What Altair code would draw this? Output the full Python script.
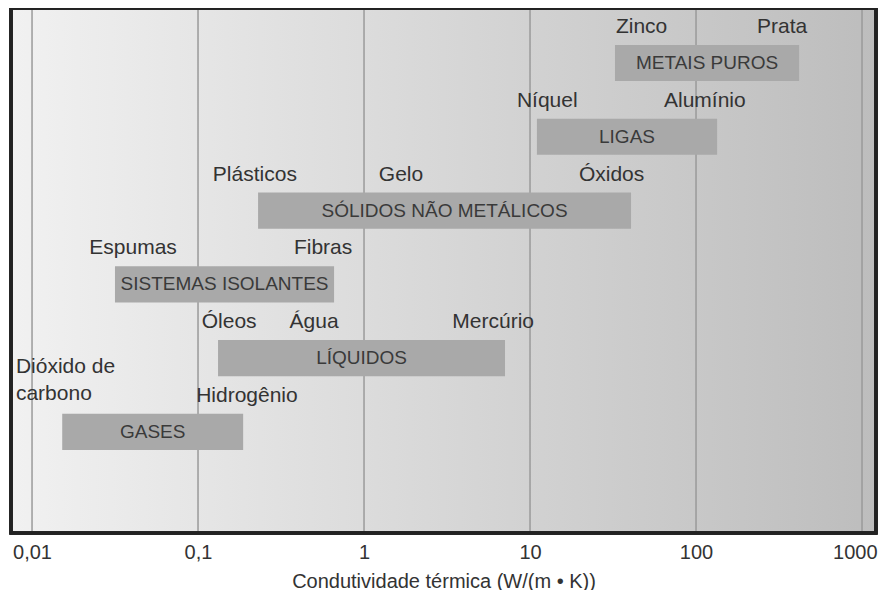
import altair as alt
import pandas as pd
import math

# ---- data ----
categories = ["GASES", "LÍQUIDOS", "SISTEMAS ISOLANTES", "SÓLIDOS NÃO METÁLICOS", "LIGAS", "METAIS PUROS"]
k_low = [0.0152, 0.132, 0.0316, 0.23, 11.0, 32.5]
k_high = [0.187, 7.07, 0.66, 40.6, 134.0, 418.0]

materials = ["Zinco", "Prata", "Níquel", "Alumínio", "Plásticos", "Gelo", "Óxidos",
             "Espumas", "Fibras", "Óleos", "Água", "Mercúrio", "Hidrogênio"]
material_k = [47, 330, 12.7, 113, 0.22, 1.67, 31, 0.0406, 0.567, 0.154, 0.5, 6.0, 0.197]
material_group = ["METAIS PUROS", "METAIS PUROS", "LIGAS", "LIGAS",
                  "SÓLIDOS NÃO METÁLICOS", "SÓLIDOS NÃO METÁLICOS", "SÓLIDOS NÃO METÁLICOS",
                  "SISTEMAS ISOLANTES", "SISTEMAS ISOLANTES",
                  "LÍQUIDOS", "LÍQUIDOS", "LÍQUIDOS", "GASES"]

co2_label = ["Dióxido de\ncarbono"]
co2_k = [0.008]
co2_group = ["GASES"]

tick_values = [0.01, 0.1, 1, 10, 100, 1000]
tick_labels = ["0,01", "0,1", "1", "10", "100", "1000"]

x_domain = [0.00747, 1214]
y_domain = [-1.37, 5.745]

FONT = "Liberation Sans"

# ---- tables ----
bars = pd.DataFrame({
    "cat": categories,
    "lo": k_low,
    "hi": k_high,
    "row": list(range(len(categories))),
})
bars["mid"] = [math.sqrt(a * b) for a, b in zip(k_low, k_high)]

ann = pd.DataFrame({
    "name": materials,
    "k": material_k,
    "row": [categories.index(g) for g in material_group],
})
co2 = pd.DataFrame({
    "name": co2_label,
    "k": co2_k,
    "row": [categories.index(g) for g in co2_group],
})
ticks = pd.DataFrame({"v": tick_values})

label_expr = " : ".join(
    f"datum.value == {v} ? '{l}'" for v, l in zip(tick_values, tick_labels)
) + " : datum.label"

xscale = alt.Scale(type="log", domain=x_domain, nice=False)
yscale = alt.Scale(domain=y_domain, nice=False, zero=False)

gradient = alt.Gradient(
    gradient="linear",
    x1=0, y1=0, x2=1, y2=0,
    stops=[alt.GradientStop(offset=0, color="#f1f1f1"),
           alt.GradientStop(offset=1, color="#bdbdbd")],
)

background = alt.Chart(ticks).mark_rect(fill=gradient).encode(
    x=alt.value(0), x2=alt.value("width"), y=alt.value(0), y2=alt.value("height")
)

grid = alt.Chart(ticks).mark_rule(color="#9a9a9a", strokeWidth=1.5).encode(
    x=alt.X("v:Q", scale=xscale,
            axis=alt.Axis(values=tick_values, labelExpr=label_expr, grid=False,
                          ticks=False, domain=False, labelPadding=9,
                          labelFlush=16, labelFlushOffset=15,
                          title="Condutividade térmica (W/(m • K))", titlePadding=9)),
)

rects = alt.Chart(bars).transform_calculate(
    y0="datum.row - 0.245", y1="datum.row + 0.245"
).mark_rect(color="#a9a9a9").encode(
    x=alt.X("lo:Q", scale=xscale),
    x2="hi:Q",
    y=alt.Y("y0:Q", scale=yscale, axis=None),
    y2="y1:Q",
)

bar_text = alt.Chart(bars).mark_text(
    font=FONT, fontSize=19, color="#3a3a3a", baseline="middle"
).encode(
    x=alt.X("mid:Q", scale=xscale),
    y=alt.Y("row:Q", scale=yscale, axis=None),
    text="cat:N",
)

ann_text = alt.Chart(ann).mark_text(
    font=FONT, fontSize=21, color="#333333", baseline="middle", dy=-36
).encode(
    x=alt.X("k:Q", scale=xscale),
    y=alt.Y("row:Q", scale=yscale, axis=None),
    text="name:N",
)

co2_text = alt.Chart(co2).mark_text(
    font=FONT, fontSize=21, color="#333333", baseline="middle", align="left",
    lineBreak="\n", lineHeight=27, dy=-65
).encode(
    x=alt.X("k:Q", scale=xscale),
    y=alt.Y("row:Q", scale=yscale, axis=None),
    text="name:N",
)

border = alt.Chart(ticks).mark_rect(fillOpacity=0, stroke="#222222", strokeWidth=3).encode(
    x=alt.value(0), x2=alt.value("width"), y=alt.value(0), y2=alt.value("height")
)

chart = alt.layer(background, grid, rects, bar_text, ann_text, co2_text, border).properties(
    width=865, height=525,
    autosize=alt.AutoSizeParams(type="none"),
    padding={"left": 3, "top": 0, "right": 2, "bottom": 57},
).configure_view(stroke=None).configure_axis(
    labelFont=FONT, labelFontSize=20, labelColor="#333333",
    titleFont=FONT, titleFontSize=20, titleColor="#333333", titleFontWeight="normal",
)

chart.save("out.html", embed_options={"renderer": "svg", "actions": False})
